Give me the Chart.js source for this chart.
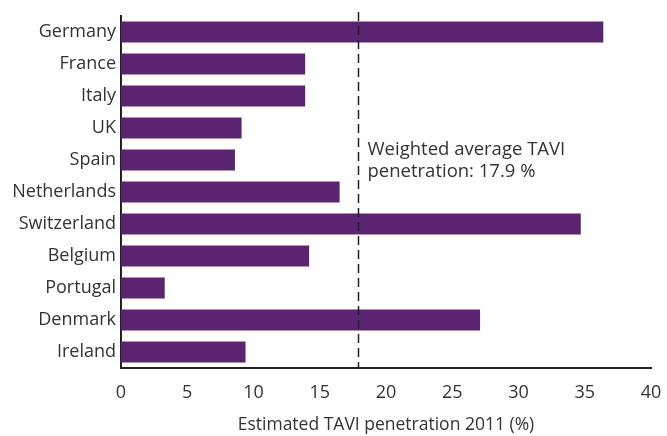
<!DOCTYPE html>
<html>
<head>
<meta charset="utf-8">
<script src="https://cdn.jsdelivr.net/npm/chart.js@4/dist/chart.umd.min.js"></script>
<style>
    html, body { margin: 0; padding: 0; background: #fff; }
    #wrap { width: 667px; height: 436px; position: relative; }
</style>
</head>
<body>
<div id="wrap"><canvas id="taviChart"></canvas></div>
<script>
// --- Data ---
const countries = ['Germany', 'France', 'Italy', 'UK', 'Spain', 'Netherlands',
    'Switzerland', 'Belgium', 'Portugal', 'Denmark', 'Ireland'];
const penetration = [36.4, 13.9, 13.9, 9.1, 8.6, 16.5, 34.7, 14.2, 3.3, 27.1, 9.4];
const xTicks = [0, 5, 10, 15, 20, 25, 30, 35, 40];
const weightedAverage = 17.9;
const averageLabel = ['Weighted average TAVI', 'penetration: 17.9 %'];
const xTitle = 'Estimated TAVI penetration 2011 (%)';

const FONT = '"Open Sans", sans-serif';
const TEXT = '#333333';

// dashed average line plus its note
const averagePlugin = {
    id: 'averageLine',
    afterDatasetsDraw(chart) {
        const { ctx, chartArea, scales } = chart;
        const x = Math.round(scales.x.getPixelForValue(weightedAverage)) + 0.5;
        ctx.save();
        ctx.strokeStyle = '#222';
        ctx.lineWidth = 1.5;
        ctx.setLineDash([9, 5]);
        ctx.beginPath();
        ctx.moveTo(x, chartArea.top - 4);
        ctx.lineTo(x, chartArea.bottom);
        ctx.stroke();
        ctx.setLineDash([]);
        ctx.fillStyle = TEXT;
        ctx.font = '18.5px ' + FONT;
        ctx.textBaseline = 'middle';
        averageLabel.forEach((line, i) => {
            ctx.fillText(line, x + 9, 150 + i * 22);
        });
        ctx.restore();
    }
};

new Chart(document.getElementById('taviChart'), {
    type: 'bar',
    data: {
        labels: countries,
        datasets: [{
            data: penetration,
            backgroundColor: '#5a2470',
            categoryPercentage: 0.65,
            barPercentage: 1
        }]
    },
    options: {
        indexAxis: 'y',
        responsive: true,
        maintainAspectRatio: false,
        animation: false,
        layout: { padding: { top: 16, right: 16, left: 0, bottom: 0 } },
        plugins: {
            legend: { display: false },
            tooltip: { enabled: false }
        },
        scales: {
            x: {
                min: 0,
                max: 40,
                grid: { display: false, drawTicks: false },
                border: { display: true, color: '#222', width: 2 },
                afterBuildTicks: (axis) => {
                    axis.ticks = xTicks.map(v => ({ value: v }));
                },
                afterFit: (axis) => {
                    axis.height = 68;
                    axis.paddingLeft = 0;
                    axis.paddingRight = 0;
                },
                ticks: {
                    color: TEXT,
                    font: { family: FONT, size: 18 },
                    padding: 14,
                    maxRotation: 0
                },
                title: {
                    display: true,
                    text: xTitle,
                    color: TEXT,
                    font: { family: FONT, size: 17.5 },
                    padding: { top: 10, bottom: 0 }
                }
            },
            y: {
                grid: { display: false, drawTicks: false },
                border: { display: true, color: '#222', width: 2 },
                afterFit: (axis) => { axis.width = 121; },
                ticks: {
                    color: TEXT,
                    font: { family: FONT, size: 18 },
                    padding: 5
                }
            }
        }
    },
    plugins: [averagePlugin]
});
</script>
</body>
</html>
